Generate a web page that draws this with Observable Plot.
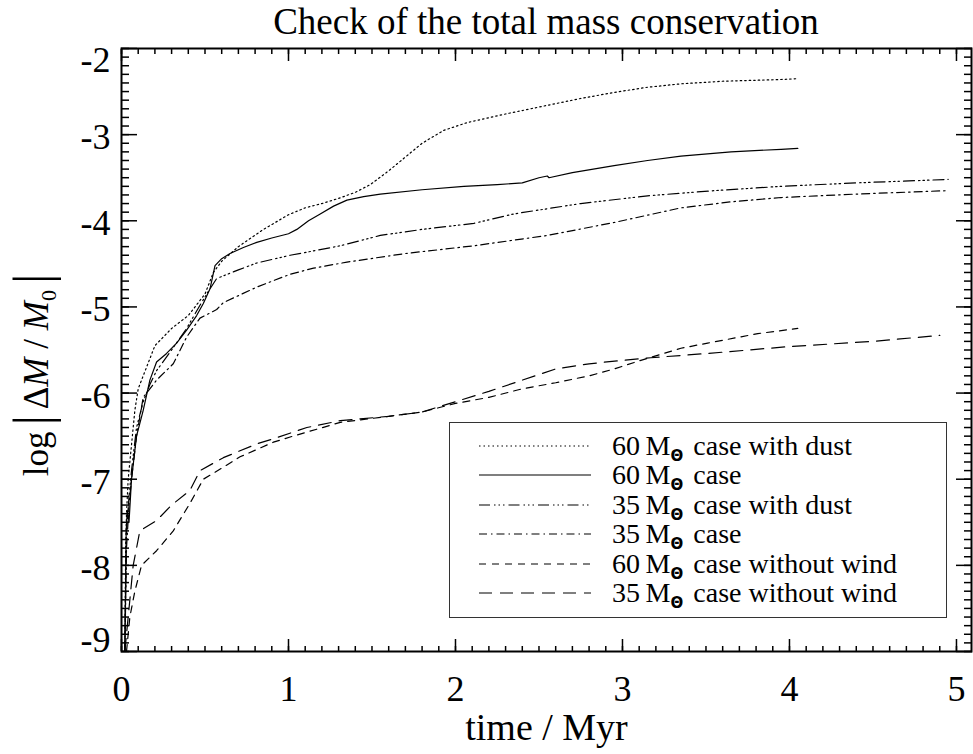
<!DOCTYPE html>
<html><head><meta charset="utf-8">
<script src="https://cdn.jsdelivr.net/npm/d3@7"></script>
<script src="https://cdn.jsdelivr.net/npm/@observablehq/plot@0.6"></script>
<style>
body{margin:0;background:#fff;font-family:"Liberation Serif","Times New Roman",serif;color:#000;}
#wrap{position:relative;width:973px;height:754px;overflow:hidden;}
#title{position:absolute;left:121px;width:850px;top:1px;line-height:41px;text-align:center;font-size:37px;white-space:nowrap;}
#ylab{position:absolute;left:40px;top:372px;transform:translate(-50%,-50%) rotate(-90deg);font-size:35px;white-space:nowrap;line-height:50px;}
#ylab .bar{font-size:52px;position:relative;top:2px;margin:0 6px;}
#ylab sub{font-size:22px;}
#legend{position:absolute;left:449px;top:422px;width:498px;height:196px;border:1.5px solid #333;box-sizing:border-box;}
.row{position:absolute;left:0;height:28px;white-space:nowrap;font-size:28px;line-height:28px;}
.row svg{position:absolute;left:28px;top:0;}
.row span{position:absolute;left:162px;top:0px;}
.row sub{font-family:"DejaVu Sans";font-weight:bold;font-size:15px;vertical-align:-6px;line-height:0;margin-right:3px;}
</style></head><body><div id="wrap"><div id="title"></div><div id="ylab">log<span class="bar">|</span>Δ<i>M</i> / <i>M</i><sub>0</sub><span class="bar">|</span></div><div id="legend"></div></div>
<script>
const chartTitle = "Check of the total mass conservation";
const xLabel = "time / Myr";
const xTicks = [0, 1, 2, 3, 4, 5];
const xTickLabels = ["0", "1", "2", "3", "4", "5"];
const yTicks = [-2, -3, -4, -5, -6, -7, -8, -9];
const yTickLabels = ["-2", "-3", "-4", "-5", "-6", "-7", "-8", "-9"];
const seriesLabels = ["60", "60", "35", "35", "60", "35"];
const seriesSuffix = [" case with dust", " case", " case with dust", " case", " case without wind", " case without wind"];
const seriesDash = ["1.5,3", "none", "11,4,1.5,3,1.5,3,1.5,4", "8,4,1.5,4", "7,6", "13,8"];

const t60dust = [0.02,0.025,0.03,0.04,0.06,0.08,0.1,0.15,0.2,0.3,0.4,0.5,0.55,0.6,0.7,0.85,1.0,1.1,1.2,1.3,1.4,1.49,1.6,1.7,1.8,1.93,2.07,2.3,2.55,2.75,2.95,3.15,3.35,3.6,3.95,4.05];
const v60dust = [-9.0,-7.8,-7.4,-7.0,-6.6,-6.2,-5.95,-5.7,-5.45,-5.25,-5.1,-4.85,-4.6,-4.47,-4.3,-4.1,-3.93,-3.85,-3.8,-3.74,-3.67,-3.58,-3.42,-3.26,-3.1,-2.95,-2.86,-2.76,-2.66,-2.58,-2.51,-2.45,-2.41,-2.38,-2.36,-2.35];

const t60 = [0.02,0.028,0.035,0.045,0.06,0.09,0.13,0.17,0.21,0.27,0.33,0.39,0.45,0.49,0.53,0.56,0.6,0.65,0.73,0.81,0.9,1.0,1.05,1.12,1.19,1.27,1.35,1.45,1.55,1.8,2.05,2.25,2.4,2.5,2.55,2.56,2.7,2.95,3.15,3.35,3.65,3.95,4.05];
const v60 = [-9.0,-7.6,-7.36,-7.5,-7.0,-6.5,-6.2,-5.85,-5.64,-5.54,-5.42,-5.27,-5.1,-4.96,-4.79,-4.52,-4.44,-4.38,-4.31,-4.25,-4.2,-4.15,-4.1,-4.0,-3.92,-3.83,-3.76,-3.72,-3.69,-3.64,-3.6,-3.58,-3.56,-3.5,-3.48,-3.5,-3.44,-3.36,-3.3,-3.25,-3.2,-3.17,-3.16];

const t35dust = [0.02,0.03,0.045,0.06,0.09,0.13,0.17,0.21,0.3,0.39,0.47,0.52,0.57,0.7,0.81,1.01,1.15,1.31,1.55,1.8,2.11,2.35,2.55,2.75,3.15,3.55,3.95,4.4,4.95];
const v35dust = [-9.0,-7.6,-7.2,-6.9,-6.4,-6.1,-5.9,-5.74,-5.5,-5.25,-4.98,-4.82,-4.67,-4.57,-4.49,-4.4,-4.35,-4.29,-4.17,-4.1,-4.03,-3.92,-3.86,-3.8,-3.71,-3.65,-3.6,-3.56,-3.52];

const t35 = [0.02,0.03,0.045,0.06,0.09,0.13,0.21,0.31,0.39,0.47,0.57,0.61,0.81,1.01,1.15,1.35,1.7,2.11,2.55,2.95,3.35,3.65,3.95,4.4,4.95];
const v35 = [-9.0,-7.8,-7.3,-7.0,-6.5,-6.05,-5.85,-5.66,-5.35,-5.13,-5.03,-4.95,-4.77,-4.62,-4.55,-4.48,-4.38,-4.29,-4.17,-4.02,-3.85,-3.78,-3.73,-3.69,-3.65];

const t60nw = [0.03,0.05,0.08,0.12,0.21,0.31,0.41,0.49,0.61,0.71,0.91,1.01,1.31,1.6,1.8,2.0,2.2,2.4,2.6,2.8,2.95,3.11,3.35,3.51,3.81,4.05];
const v60nw = [-9.0,-8.6,-8.3,-8.0,-7.83,-7.6,-7.28,-7.0,-6.86,-6.74,-6.57,-6.51,-6.34,-6.27,-6.22,-6.12,-6.05,-5.95,-5.88,-5.8,-5.72,-5.62,-5.48,-5.42,-5.31,-5.25];

const t35nw = [0.02,0.04,0.07,0.11,0.21,0.3,0.41,0.47,0.61,0.81,0.91,1.11,1.31,1.6,1.8,2.0,2.2,2.4,2.6,2.8,3.0,3.17,3.51,4.0,4.5,4.9];
const v35nw = [-9.0,-8.6,-8.0,-7.6,-7.48,-7.3,-7.13,-6.9,-6.75,-6.59,-6.53,-6.4,-6.32,-6.27,-6.22,-6.1,-5.98,-5.85,-5.72,-5.66,-5.62,-5.59,-5.54,-5.46,-5.4,-5.33];

const seriesT = [t60dust, t60, t35dust, t35, t60nw, t35nw];
const seriesV = [v60dust, v60, v35dust, v35, v60nw, v35nw];

const font = '"Liberation Serif", "Times New Roman", serif';
const xMinor = d3.range(0, 51).map(i => i / 10);
const yMinor = d3.range(-90, -19).map(i => i / 10);

const lineMarks = seriesT.map((ts, k) => Plot.line(ts.map((t, i) => ({t, v: seriesV[k][i]})), {
  x: "t", y: "v", stroke: "#000", strokeWidth: 1.2, strokeDasharray: seriesDash[k] === "none" ? null : seriesDash[k]
}));

const noLab = () => "";
const plot = Plot.plot({
  width: 973, height: 754,
  marginLeft: 121, marginRight: 2, marginTop: 48, marginBottom: 103,
  style: {fontFamily: font, background: "transparent", color: "#000"},
  x: {domain: [0, 5.09]},
  y: {domain: [-9, -2]},
  marks: [
    ...lineMarks,
    Plot.axisX({anchor: "bottom", ticks: xMinor, tickSize: -5, tickFormat: noLab, strokeWidth: 1.5, label: null}),
    Plot.axisX({anchor: "bottom", ticks: xTicks, tickSize: -12, tickFormat: noLab, strokeWidth: 1.5, label: null}),
    Plot.axisX({anchor: "top", ticks: xMinor, tickSize: -5, tickFormat: noLab, strokeWidth: 1.5, label: null}),
    Plot.axisX({anchor: "top", ticks: xTicks, tickSize: -12, tickFormat: noLab, strokeWidth: 1.5, label: null}),
    Plot.axisY({anchor: "left", ticks: yMinor, tickSize: -8, tickFormat: noLab, strokeWidth: 1.5, label: null}),
    Plot.axisY({anchor: "left", ticks: yTicks, tickSize: -16, tickFormat: noLab, strokeWidth: 1.5, label: null}),
    Plot.axisY({anchor: "right", ticks: yMinor, tickSize: -8, tickFormat: noLab, strokeWidth: 1.5, label: null}),
    Plot.axisY({anchor: "right", ticks: yTicks, tickSize: -16, tickFormat: noLab, strokeWidth: 1.5, label: null}),
    Plot.axisX({anchor: "bottom", ticks: xTicks, tickSize: 0, tickPadding: 24, tickFormat: (d, i) => xTickLabels[i], fontSize: 36, label: null}),
    Plot.axisY({anchor: "left", ticks: yTicks.slice(1, 7), tickSize: 0, tickPadding: 11, dy: 3, tickFormat: (d, i) => yTickLabels[i + 1], fontSize: 36, label: null}),
    Plot.axisY({anchor: "left", ticks: [yTicks[0]], tickSize: 0, tickPadding: 11, dy: 12, tickFormat: () => yTickLabels[0], fontSize: 36, label: null}),
    Plot.axisY({anchor: "left", ticks: [yTicks[7]], tickSize: 0, tickPadding: 11, dy: -11, tickFormat: () => yTickLabels[7], fontSize: 36, label: null}),
    Plot.text([xLabel], {frameAnchor: "bottom", lineAnchor: "middle", dy: 76, fontSize: 38, text: d => d}),
    Plot.frame({stroke: "#000", strokeWidth: 2})
  ]
});
const wrap = document.getElementById("wrap");
plot.style.position = "absolute"; plot.style.left = "0"; plot.style.top = "0";
wrap.insertBefore(plot, wrap.firstChild);
document.getElementById("title").textContent = chartTitle;

const legend = document.getElementById("legend");
seriesLabels.forEach((m, k) => {
  const row = document.createElement("div");
  row.className = "row";
  row.style.top = (8.5 + 29.5 * k) + "px";
  row.style.width = "100%";
  const dash = seriesDash[k] === "none" ? "" : `stroke-dasharray="${seriesDash[k]}"`;
  row.innerHTML = `<svg width="114" height="28"><line x1="1" x2="113" y1="14" y2="14" stroke="#000" stroke-width="1.2" ${dash}/></svg><span>${m}\u2009M<sub>\u0398</sub>${seriesSuffix[k]}</span>`;
  legend.appendChild(row);
});
</script>
</body></html>
